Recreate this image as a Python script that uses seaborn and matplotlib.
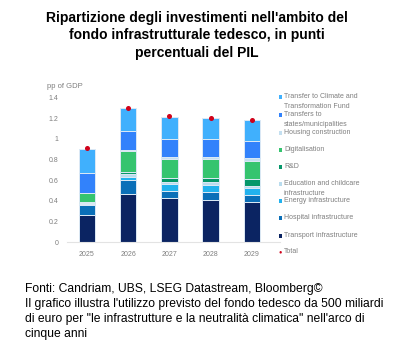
import matplotlib
matplotlib.use("Agg")
import matplotlib.pyplot as plt
import seaborn as sns
import numpy as np
import pandas as pd

years = ["2025", "2026", "2027", "2028", "2029"]
transport = [0.26, 0.47, 0.43, 0.41, 0.39]
hospital = [0.10, 0.13, 0.07, 0.08, 0.07]
energy = [0.01, 0.03, 0.06, 0.065, 0.06]
education = [0.01, 0.025, 0.025, 0.025, 0.025]
rnd = [0.005, 0.025, 0.035, 0.04, 0.07]
digital = [0.095, 0.20, 0.18, 0.18, 0.17]
housing = [0.0, 0.01, 0.02, 0.02, 0.025]
transfers = [0.19, 0.18, 0.18, 0.18, 0.17]
climate = [0.23, 0.23, 0.21, 0.20, 0.20]
total = [0.91, 1.30, 1.22, 1.20, 1.18]

series_names = ["Transport infrastructure", "Hospital infrastructure", "Energy infrastructure",
                "Education and childcare\ninfrastructure", "R&D", "Digitalisation",
                "Housing construction", "Transfers to\nstates/municipalities",
                "Transfer to Climate and\nTransformation Fund"]
series_vals = [transport, hospital, energy, education, rnd, digital, housing, transfers, climate]
colors = ["#0b2462", "#0a6fb8", "#22b2ee", "#b9dcee", "#06976a", "#35c46f",
          "#c3dff0", "#3282fb", "#40b0fd"]

title = "Ripartizione degli investimenti nell'ambito del\nfondo infrastrutturale tedesco, in punti\npercentuali del PIL"
footer = ("Fonti: Candriam, UBS, LSEG Datastream, Bloomberg©\n"
          "Il grafico illustra l'utilizzo previsto del fondo tedesco da 500 miliardi\n"
          "di euro per \"le infrastrutture e la neutralità climatica\" nell'arco di\n"
          "cinque anni")

sns.set_theme(style="white")
plt.rcParams['font.family'] = ['Liberation Sans', 'DejaVu Sans']

W, H = 394, 344
fig = plt.figure(figsize=(W / 100, H / 100), dpi=100)
ax = fig.add_axes([66.7 / W, (H - 242.3) / H, (280 - 66.7) / W, 145 / H])

bottom = np.zeros(len(years))
for name, vals, col in zip(series_names, series_vals, colors):
    df = pd.DataFrame({"year": years, "val": vals})
    sns.barplot(data=df, x="year", y="val", order=years, color=col, bottom=bottom,
                width=0.4, edgecolor="#dce9f5", linewidth=0.7, ax=ax, saturation=1)
    bottom = bottom + np.array(vals)

dft = pd.DataFrame({"year": years, "total": total})
sns.pointplot(data=dft, x="year", y="total", order=years, color="#d0021b",
              linestyle="none", markers="o", markersize=1.6, ax=ax, zorder=5)

ax.set_xlim(-0.49, 4.68)
ax.set_ylim(0, 1.4)
ax.set_yticks([0, 0.2, 0.4, 0.6, 0.8, 1.0, 1.2, 1.4])
ax.set_yticklabels(["0", "0.2", "0.4", "0.6", "0.8", "1", "1.2", "1.4"])
ax.set_xlabel("")
ax.set_ylabel("")
ax.tick_params(axis="both", labelsize=5, colors="#7f7f7f", length=0, pad=6)
for s in ["left", "right", "top"]:
    ax.spines[s].set_visible(False)
ax.spines["bottom"].set_color("#e3e3e3")
ax.spines["bottom"].set_linewidth(0.8)

fig.text(47 / W, 1 - 87 / H, "pp of GDP", fontsize=5.5, color="#7f7f7f", va="center", ha="left")

# legend (manual layout, top to bottom)
leg_names = list(reversed(series_names)) + ["Total"]
leg_colors = list(reversed(colors)) + ["#d0021b"]
leg_y = [97, 115, 133, 150, 167, 184, 201, 218, 236, 252]
for name, col, y in zip(leg_names, leg_colors, leg_y):
    if name == "Total":
        fig.text(280.3 / W, 1 - y / H, "●", fontsize=4, color=col, va="center", ha="center")
    else:
        fig.patches.append(plt.Rectangle((278.5 / W, 1 - (y + 1.8) / H), 3.6 / W, 3.6 / H,
                                         transform=fig.transFigure, facecolor=col,
                                         edgecolor="none"))
    fig.text(284 / W, 1 - (y - 3.6) / H, name, fontsize=5, color="#7f7f7f", va="top",
             ha="left", linespacing=1.55)

fig.text(0.5, 1 - 11 / H, title, fontsize=10, fontweight="bold", ha="center", va="top",
         linespacing=1.3, color="#000000")
fig.text(25 / W, 1 - 283 / H, footer, fontsize=8.7, ha="left", va="top", linespacing=1.32,
         color="#000000")

fig.savefig("out.png", dpi=100)
